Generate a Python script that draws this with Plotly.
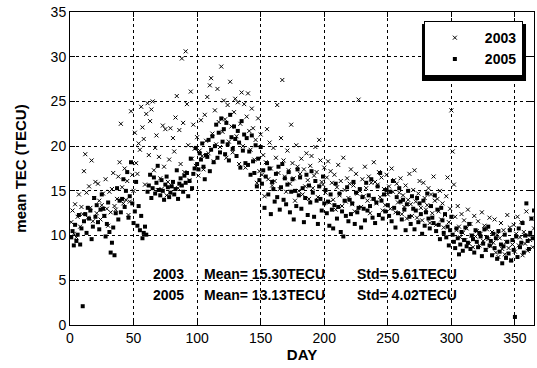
import plotly.graph_objects as go

days = list(range(1, 366))

tec_2003 = [
    11.5, 12.8, 10.2, 13.5, 9.8, 12.1, 14.6, 11.0, 13.2, 12.4,
    17.2, 19.1, 14.8, 12.0, 15.5, 13.1, 18.4, 11.6, 14.2, 16.0,
    12.5, 15.8, 13.9, 11.8, 13.4, 14.7, 12.2, 16.3, 13.0, 11.1,
    14.9, 12.6, 15.2, 17.0, 13.3, 12.9, 14.1, 16.6, 18.2, 22.5,
    15.4, 13.6, 17.5, 14.0, 16.1, 12.3, 13.8, 23.9, 16.8, 15.0,
    21.5, 18.1, 16.9, 20.3, 19.6, 24.4, 22.1, 20.8, 15.7, 23.6,
    24.8, 19.0, 22.8, 24.1, 25.0, 17.3, 19.8, 21.2, 15.1, 18.8,
    16.4, 15.2, 22.3, 17.7, 21.9, 14.5, 16.0, 18.5, 22.0, 15.6,
    20.9, 19.4, 23.2, 25.6, 15.3, 21.8, 18.0, 29.8, 22.6, 17.1,
    30.6, 24.7, 20.1, 16.2, 26.1, 18.6, 22.4, 19.7, 17.8, 21.0,
    16.7, 19.5, 22.9, 18.9, 17.4, 23.5, 20.6, 25.5, 19.2, 26.8,
    27.6, 21.4, 18.3, 24.0, 20.2, 26.4, 22.7, 19.9, 28.9, 21.6,
    25.1, 23.0, 18.7, 24.6, 20.5, 27.2, 22.2, 19.3, 23.8, 25.3,
    21.1, 24.9, 18.0, 22.5, 26.0, 20.0, 24.7, 17.6, 23.3, 25.9,
    21.7, 19.6, 24.2, 22.0, 18.5, 20.7, 15.9, 23.1, 17.2, 21.3,
    16.8, 19.0, 14.4, 18.2, 21.9, 16.3, 20.4, 17.5, 15.6, 19.8,
    16.1, 18.7, 24.6, 17.0, 15.2, 20.9, 27.4, 18.4, 16.6, 14.9,
    19.5, 17.3, 15.8, 22.4, 18.1, 16.4, 13.9, 20.1, 17.7, 15.0,
    16.9, 18.6, 14.6, 17.4, 15.5, 19.2, 16.2, 14.1, 17.8, 18.9,
    15.3, 16.7, 19.9, 17.1, 14.3, 20.7, 18.4, 16.0, 15.7, 17.6,
    14.8, 16.5, 18.3, 13.7, 17.2, 15.9, 14.0, 16.8, 12.9, 15.4,
    17.9, 14.5, 16.1, 13.3, 18.7, 15.1, 13.8, 16.4, 14.2, 15.8,
    17.4, 13.5, 15.6, 12.7, 16.9, 14.7, 25.2, 15.0, 13.2, 16.3,
    14.4, 17.7, 15.3, 13.9, 16.6, 12.5, 15.9, 14.1, 18.2, 16.0,
    13.6, 15.7, 17.1, 14.3, 16.5, 12.8, 15.2, 13.4, 16.8, 14.6,
    15.5, 13.0, 17.5, 14.9, 16.2, 12.6, 15.8, 13.7, 14.8, 16.4,
    12.4, 14.5, 13.2, 15.6, 11.9, 14.0, 16.9, 13.5, 12.2, 15.1,
    17.3, 13.8, 12.0, 14.7, 16.1, 13.1, 11.7, 15.9, 14.2, 12.9,
    13.4, 15.3, 11.4, 14.6, 12.5, 16.6, 13.9, 11.2, 14.1, 12.7,
    15.0, 11.8, 13.6, 10.9, 12.3, 14.4, 16.5, 11.5, 13.0, 24.0,
    19.4, 15.7, 12.1, 10.6, 13.3, 11.0, 9.8, 12.4, 10.3, 11.7,
    9.5, 10.8, 12.9, 9.1, 11.3, 10.0, 8.7, 12.2, 9.9, 10.5,
    11.6, 8.9, 10.2, 12.6, 9.4, 11.1, 8.4, 10.7, 9.6, 12.0,
    8.8, 10.4, 9.2, 11.8, 8.1, 10.1, 7.6, 9.7, 11.4, 8.5,
    10.6, 7.9, 9.3, 12.3, 8.6, 10.9, 7.3, 9.0, 11.2, 8.2,
    10.2, 12.1, 8.9, 9.8, 11.5, 7.8, 10.4, 9.1, 12.7, 8.3,
    10.0, 9.5, 11.9, 8.7, 10.8,
]

tec_2005 = [
    9.8, 10.5, 8.9, 11.2, 9.4, 10.1, 12.3, 9.0, 10.8, 2.1,
    11.6, 12.4, 10.3, 13.1, 11.9, 12.8, 9.6, 11.0, 14.2, 12.1,
    13.4, 11.5, 10.7, 12.9, 14.6, 13.0, 12.2, 9.9, 11.3, 13.7,
    10.4, 8.1, 9.2, 10.9, 7.8, 12.5, 15.3, 11.8, 13.9, 12.6,
    14.1, 16.3, 13.2, 15.0, 17.1, 12.0, 14.4, 18.2, 13.6, 11.4,
    12.7, 16.0, 11.1, 13.3, 10.6, 12.2, 9.7, 10.3, 11.0, 10.1,
    14.9, 15.6, 16.8, 14.2, 15.3, 16.5, 14.7, 15.9, 17.8, 15.1,
    14.5, 16.2, 15.0, 14.0, 15.7, 16.6, 15.4, 14.3, 14.8, 15.5,
    16.0, 14.6, 15.2, 17.3, 14.1, 15.8, 16.4, 15.6, 14.9, 16.7,
    15.9, 17.0, 14.4, 16.1, 18.6, 15.3, 16.9, 17.5, 19.8, 18.0,
    17.4, 19.2, 18.5, 20.3, 17.7, 16.3, 19.0, 18.8, 20.7, 17.2,
    19.6, 21.1, 18.2, 20.0, 22.4, 18.7, 21.5, 19.3, 23.1, 20.5,
    21.9, 19.1, 22.6, 20.2, 18.4, 23.5, 21.0, 19.7, 22.2, 20.8,
    18.9, 21.7, 20.4, 17.6, 22.8, 19.5, 21.3, 18.1, 20.9, 17.9,
    19.4, 16.8, 21.2, 18.3, 17.0, 20.1, 15.5, 18.6, 16.2, 19.9,
    15.8, 17.3, 13.1, 16.6, 18.1, 14.6, 17.5, 12.4, 16.0, 15.2,
    13.8, 16.9, 14.3, 17.7, 12.9, 15.4, 18.0, 14.0, 16.4, 13.5,
    15.7, 17.1, 12.6, 14.9, 16.3, 11.8, 15.0, 13.3, 17.4, 14.5,
    16.5, 13.0, 15.3, 11.5, 14.2, 16.8, 12.3, 15.6, 13.7, 17.2,
    14.8, 12.1, 16.1, 13.9, 11.3, 15.5, 14.1, 12.8, 16.6, 13.6,
    15.1, 12.5, 13.8, 11.1, 14.6, 12.9, 10.8, 13.4, 15.8, 11.9,
    13.2, 14.7, 10.4, 12.7, 9.9, 13.9, 12.2, 15.4, 11.6, 14.0,
    12.4, 13.6, 16.0, 11.3, 14.8, 12.6, 13.1, 15.2, 10.9, 14.3,
    13.0, 11.7, 15.9, 12.8, 14.5, 13.3, 16.3, 12.0, 14.1, 11.4,
    13.7, 15.5, 12.3, 17.0, 13.9, 11.9, 14.6, 12.7, 15.1, 13.4,
    12.2, 14.9, 11.6, 16.1, 13.1, 10.9, 14.3, 12.5, 15.3, 13.8,
    11.8, 14.0, 12.9, 10.6, 13.5, 15.0, 12.1, 11.3, 14.4, 13.0,
    10.7, 12.8, 14.2, 11.5, 13.6, 12.4, 10.2, 13.9, 11.1, 12.6,
    14.7, 11.9, 10.8, 13.3, 12.0, 11.4, 14.5, 10.5, 12.9, 11.2,
    9.6, 13.1, 11.7, 10.3, 12.4, 9.8, 11.0, 8.9, 10.6, 12.1,
    10.1, 9.3, 8.6, 10.8, 9.7, 7.9, 9.0, 10.4, 8.3, 9.5,
    10.9, 8.8, 9.2, 11.3, 8.5, 10.0, 9.6, 8.1, 10.6, 9.3,
    8.7, 10.3, 9.9, 7.7, 9.1, 10.7, 8.4, 9.8, 11.0, 8.9,
    9.4, 7.8, 10.2, 8.6, 9.7, 7.4, 10.5, 8.2, 9.0, 6.9,
    8.8, 10.1, 7.5, 9.3, 8.0, 10.6, 7.2, 9.5, 8.4, 0.9,
    9.9, 7.6, 10.8, 8.7, 9.2, 11.4, 8.1, 10.0, 13.6, 9.4,
    8.5, 10.3, 11.9, 9.7, 12.8,
]

x_ticks = [0, 50, 100, 150, 200, 250, 300, 350]
y_ticks = [0, 5, 10, 15, 20, 25, 30, 35]

stats_rows = [
    ("2003", "Mean= 15.30TECU", "Std= 5.61TECU", 5.7),
    ("2005", "Mean= 13.13TECU", "Std= 4.02TECU", 3.3),
]

FONT = "Arial, Liberation Sans, sans-serif"

fig = go.Figure()
fig.add_trace(go.Scatter(
    x=days, y=tec_2003, mode="markers", name="<b>2003</b>",
    marker=dict(symbol="x-thin", size=4, color="black",
                line=dict(width=1, color="black")),
))
fig.add_trace(go.Scatter(
    x=days, y=tec_2005, mode="markers", name="<b>2005</b>",
    marker=dict(symbol="square", size=4, color="black", line=dict(width=0)),
))

for label, mean_txt, std_txt, yv in stats_rows:
    for xv, txt in [(64, label), (104, mean_txt), (224, std_txt)]:
        fig.add_annotation(x=xv, y=yv, text="<b>" + txt + "</b>", showarrow=False,
                           xanchor="left", yanchor="middle",
                           font=dict(family=FONT, size=14, color="black"))

# legend drop shadow (paper-referenced, drawn beneath the plot layers)
fig.add_shape(type="rect", xref="paper", yref="paper",
              x0=0.7586, x1=0.9828, y0=0.7796, y1=0.9617,
              fillcolor="black", line=dict(width=0), layer="below")

axis_common = dict(
    showline=True, linecolor="black", linewidth=1, mirror="ticks",
    ticks="inside", ticklen=5, tickcolor="black",
    showgrid=True, gridcolor="black", griddash="dot", gridwidth=1,
    zeroline=False,
    tickfont=dict(family=FONT, size=14, color="black"),
)

fig.update_layout(
    width=537, height=368,
    margin=dict(l=70, r=3, t=12, b=43),
    paper_bgcolor="white", plot_bgcolor="rgba(0,0,0,0)",
    showlegend=True,
    legend=dict(
        x=0.976, y=0.971, xanchor="right", yanchor="top",
        bgcolor="white", bordercolor="black", borderwidth=1,
        font=dict(family=FONT, size=14, color="black"),
        itemwidth=50, tracegroupgap=0,
    ),
    xaxis=dict(range=[0, 365], tickvals=x_ticks,
               title=dict(text="<b>DAY</b>", standoff=2,
                          font=dict(family=FONT, size=15, color="black")),
               **axis_common),
    yaxis=dict(range=[0, 35], tickvals=y_ticks,
               title=dict(text="<b>mean TEC (TECU)</b>", standoff=20,
                          font=dict(family=FONT, size=15, color="black")),
               **axis_common),
)

fig.write_html("out.html")
